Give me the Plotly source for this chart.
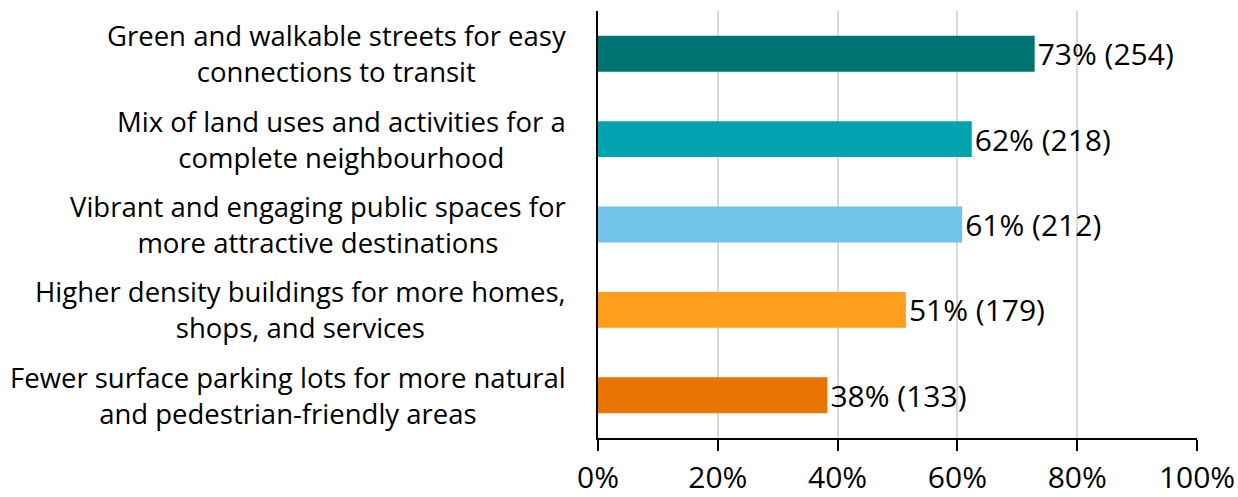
import plotly.graph_objects as go

categories = [
    "Green and walkable streets for easy<br>connections to transit",
    "Mix of land uses and activities for a<br>complete neighbourhood",
    "Vibrant and engaging public spaces for<br>more attractive destinations",
    "Higher density buildings for more homes,<br>shops, and services",
    "Fewer surface parking lots for more natural<br>and pedestrian-friendly areas",
]
pct_values = [72.9, 62.4, 60.8, 51.4, 38.3]
pct_labels = ["73%", "62%", "61%", "51%", "38%"]
counts = [254, 218, 212, 179, 133]
colors = ["#007373", "#00A3AE", "#71C4E8", "#FD9E1C", "#E87503"]
x_ticks = [0, 20, 40, 60, 80, 100]
x_ticklabels = ["0%", "20%", "40%", "60%", "80%", "100%"]

FONT = "Open Sans"
labels = [f"{p} ({c})" for p, c in zip(pct_labels, counts)]

fig = go.Figure(
    go.Bar(
        x=pct_values,
        y=categories,
        orientation="h",
        marker=dict(color=colors, line=dict(width=0)),
        text=labels,
        textposition="outside",
        constraintext="none",
        textfont=dict(family=FONT, size=30, color="#000000"),
        cliponaxis=False,
        hoverinfo="skip",
    )
)

for cat in categories:
    fig.add_annotation(
        x=0, xref="paper", xanchor="right", xshift=-30,
        y=cat, yref="y", yanchor="middle",
        text=cat, showarrow=False, align="center",
        font=dict(family=FONT, size=27.5, color="#000000"),
    )

fig.update_layout(
    width=1238, height=497,
    margin=dict(l=598, r=41, t=11, b=59, pad=0, autoexpand=False),
    paper_bgcolor="white", plot_bgcolor="white",
    bargap=0.58,
    showlegend=False,
    font=dict(family=FONT, color="#000000"),
)
fig.update_xaxes(
    range=[0, 100], automargin=False,
    tickvals=x_ticks, ticktext=x_ticklabels,
    tickfont=dict(family=FONT, size=30, color="#000000"),
    ticklabelstandoff=1,
    showgrid=True, gridcolor="#D9D9D9", gridwidth=2,
    showline=True, linecolor="#000000", linewidth=1.5,
    ticks="outside", ticklen=11, tickwidth=1.5, tickcolor="#000000",
    zeroline=False,
)
fig.update_yaxes(
    categoryorder="array", categoryarray=categories[::-1],
    showticklabels=False, automargin=False,
    showline=True, linecolor="#000000", linewidth=1.5,
    showgrid=False, zeroline=False, ticks="",
)

fig.write_html(
    "out.html",
    config={"displayModeBar": False},
    post_script="document.body.style.margin='0';document.body.style.overflow='hidden';",
)
